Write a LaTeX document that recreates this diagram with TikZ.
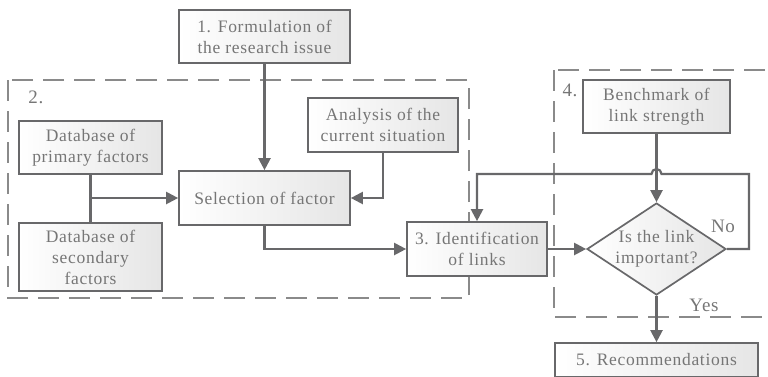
\documentclass[tikz,border=0pt]{standalone}
\usepackage{fontspec}
\setmainfont{Liberation Serif}[LetterSpace=4]
\usetikzlibrary{shapes.geometric,arrows.meta}
\definecolor{linegray}{HTML}{68686A}
\definecolor{dashgray}{HTML}{8A8A8A}
\definecolor{textgray}{HTML}{767676}
\begin{document}
\begin{tikzpicture}[x=1pt,y=1pt,
  every node/.style={text=textgray, font=\fontsize{17.5}{21}\selectfont},
  procbox/.style={draw=linegray, line width=1.7pt, left color=white, right color=black!10,
    inner sep=0pt, align=center},
  group/.style={draw=dashgray, line width=1.2pt, dash pattern=on 21pt off 10pt},
  flow/.style={draw=linegray, line width=2.2pt, -{Triangle[length=12pt,width=12pt]}},
  plain/.style={draw=linegray, line width=2.2pt},
  tag/.style={font=\fontsize{19}{21}\selectfont, inner sep=0pt}]
\useasboundingbox (0,0) rectangle (768,-376);
\begin{scope}
\clip (0,0) rectangle (768,-376);

% dashed groups
\draw[group] (8,-80) rectangle (469,-298);
\draw[group] (554,-70) rectangle (800,-317);
\node[tag] (lbltwo) at (36,-97) {2.};
\node[tag] (lblfour) at (570,-90) {4.};

% process boxes
\node[procbox, minimum width=171pt, minimum height=53pt] (form) at (264.5,-36.5)
  {1. Formulation of\\the research issue};
\node[procbox, minimum width=143pt, minimum height=53pt] (prim) at (90.5,-147.5)
  {Database of\\primary factors};
\node[procbox, minimum width=150pt, minimum height=54pt] (anal) at (383,-125)
  {Analysis of the\\current situation};
\node[procbox, minimum width=171pt, minimum height=54pt] (sel) at (264.5,-198)
  {Selection of factor};
\node[procbox, minimum width=143pt, minimum height=68pt] (sec) at (90.5,-257)
  {Database of\\secondary\\factors};
\node[procbox, minimum width=140pt, minimum height=54pt] (ident) at (477,-249)
  {3. Identification\\of links};
\node[procbox, minimum width=147pt, minimum height=53pt] (bench) at (656.5,-106.5)
  {Benchmark of\\link strength};
\node[procbox, diamond, aspect=1.51, minimum width=139pt, minimum height=92pt] (dec) at (656.5,-249) {};
\node[align=center, inner sep=0pt] (dectext) at (dec.center) {Is the link\\important?};
\node[procbox, minimum width=203pt, minimum height=34pt] (rec) at (656.5,-360)
  {5. Recommendations};

% connectors
\draw[flow] (form.south) -- (sel.north);
\draw[plain] (prim.south) -- (sec.north);
\coordinate (join) at (prim.south |- sel.west);
\draw[flow] (join) -- (sel.west);
\draw[flow] (anal.south) |- (sel.east);
\draw[flow] (sel.south) |- (ident.west);
\draw[flow] (ident.east) -- (dec.west);
\draw[flow] (bench.south) -- (dec.north);
\coordinate (loopr) at (749,-249);
\coordinate (hopr) at (661.5,-174);
\coordinate (hopl) at (651.5,-174);
\coordinate (loopl) at (ident.north |- hopl);
\draw[flow] (dec.east) -- (loopr) |- (hopr) arc[start angle=0, end angle=180, radius=5pt]
  -- (loopl) -- (ident.north);
\draw[flow] (dec.south) -- (rec.north);
\node[tag] (lblno) at (723,-226) {No};
\node[tag] (lblyes) at (704,-305) {Yes};
\end{scope}
\end{tikzpicture}
\end{document}
